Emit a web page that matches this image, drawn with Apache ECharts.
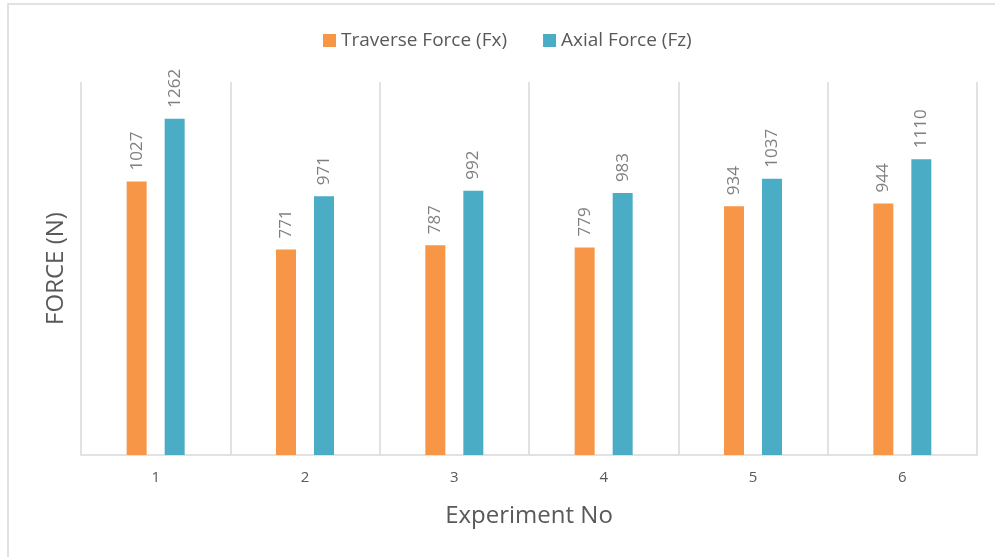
<!DOCTYPE html>
<html><head><meta charset="utf-8">
<script src="https://cdn.jsdelivr.net/npm/echarts@6/dist/echarts.min.js"></script>
<style>html,body{margin:0;padding:0;background:#fff}#c{width:995px;height:557px}</style>
</head><body><div id="c"></div>
<script>
const categories = ['1','2','3','4','5','6'];
const traverseForce = [1027, 771, 787, 779, 934, 944];
const axialForce = [1262, 971, 992, 983, 1037, 1110];
const seriesNames = ['Traverse Force (Fx)', 'Axial Force (Fz)'];

const FONT = 'Open Sans';
const TXT = '#595959';
const GRID = '#D9D9D9';
const chart = echarts.init(document.getElementById('c'), null, {renderer:'canvas'});
const lbl = {show:true, position:'top', rotate:90, align:'left', verticalAlign:'middle', distance:11, color:'#7f7f7f', fontFamily:FONT, fontSize:17};
chart.setOption({
  animation:false,
  graphic:[{type:'rect', shape:{x:8, y:4, width:1000, height:570}, style:{fill:'none', stroke:GRID, lineWidth:1.5}, silent:true}],
  legend:{data:seriesNames, left:318, top:26, itemWidth:13, itemHeight:13, itemGap:36, itemStyle:{borderWidth:0}, icon:'rect',
    textStyle:{color:TXT, fontFamily:FONT, fontSize:19}},
  grid:{left:81, right:18, top:82, bottom:102},
  xAxis:{type:'category', data:categories, name:'Experiment No', nameLocation:'middle', nameGap:49,
    nameTextStyle:{color:TXT, fontFamily:FONT, fontSize:24},
    axisLine:{lineStyle:{color:GRID, width:1.5}}, axisTick:{show:false},
    axisLabel:{color:TXT, fontFamily:FONT, fontSize:15, margin:15},
    splitLine:{show:true, interval:0, lineStyle:{color:GRID, width:1.5}}},
  yAxis:{type:'value', min:0, max:1400, name:'FORCE (N)', nameLocation:'middle', nameGap:13,
    nameTextStyle:{color:TXT, fontFamily:FONT, fontSize:24},
    axisLabel:{show:false}, axisLine:{show:false}, axisTick:{show:false}, splitLine:{show:false}},
  series:[
    {name:seriesNames[0], type:'bar', data:traverseForce, barWidth:20, barGap:'90%', itemStyle:{color:'#F79646'}, label:lbl},
    {name:seriesNames[1], type:'bar', data:axialForce, barWidth:20, barGap:'90%', itemStyle:{color:'#4BACC6'}, label:lbl}
  ]
});
</script></body></html>
